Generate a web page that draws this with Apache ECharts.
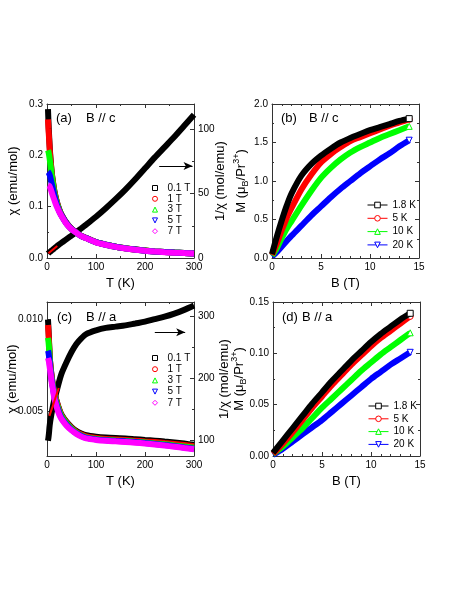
<!DOCTYPE html>
<html>
<head>
<meta charset="utf-8">
<script src="https://cdn.jsdelivr.net/npm/echarts@6/dist/echarts.min.js"></script>
<style>
html,body{margin:0;padding:0;background:#fff;}
#main{width:463px;height:599px;}
</style>
</head>
<body>
<div id="main"></div>
<script>
var FONT = '"Liberation Sans", Arial, sans-serif';

// (a) B // c : chi(T) and 1/chi(T)
var tA = [2,3,4,5,6,8,10,12,15,20,25,30,40,50,60,70,80,100,120,140,160,180,200,220,240,260,280,300];
var invChiA = [3.4,3.8,4.1,4.4,4.8,5.4,6.0,6.6,7.6,9.1,10.5,11.9,14.6,17.4,20.2,23.0,25.9,32.0,38.6,45.6,53.0,61.0,69.5,78.0,86.0,94.0,102.5,111.0];
var chiA01 = [0.290,0.265,0.244,0.226,0.209,0.184,0.164,0.150,0.131,0.110,0.095,0.084,0.068,0.057,0.050,0.043,0.039,0.031,0.026,0.022,0.019,0.0165,0.0144,0.0128,0.0116,0.0106,0.0098,0.0090];
var chiA1 = [0.270,0.252,0.236,0.220,0.205,0.181,0.162,0.148,0.130,0.109,0.094,0.083,0.068,0.057,0.050,0.043,0.039,0.031,0.026,0.022,0.019,0.0165,0.0144,0.0128,0.0116,0.0106,0.0098,0.0090];
var chiA3 = [0.210,0.207,0.202,0.196,0.189,0.174,0.158,0.145,0.127,0.107,0.093,0.082,0.067,0.0565,0.0495,0.0428,0.0388,0.0308,0.0259,0.0219,0.0189,0.0165,0.0144,0.0128,0.0116,0.0106,0.0098,0.0091];
var chiA5 = [0.168,0.167,0.165,0.163,0.160,0.152,0.143,0.135,0.122,0.104,0.091,0.082,0.067,0.0565,0.0495,0.0428,0.0388,0.0308,0.0258,0.0218,0.0188,0.0164,0.0143,0.0127,0.0115,0.0105,0.0097,0.0090];
var chiA7 = [0.142,0.142,0.141,0.140,0.138,0.133,0.127,0.121,0.113,0.100,0.090,0.081,0.066,0.056,0.049,0.0425,0.0385,0.0305,0.0256,0.0216,0.0186,0.0162,0.0142,0.0126,0.0114,0.0104,0.0096,0.0089];
var fitA = [[3,3.6],[21,9.3]];

// (c) B // a
var tC = [2,3,4,5,6,8,10,12,15,20,25,30,40,50,60,70,80,100,120,140,160,180,200,220,240,260,280,300];
var invChiC = [100,105,112,121,128,138,147,155,166,181,196,209,227,243,256,265,272,278,282,284,286,289,292,296,300,305,311,318];
var chiC01 = [0.0100,0.0095,0.0089,0.0083,0.0078,0.00725,0.0068,0.00645,0.00602,0.00552,0.0051,0.00478,0.0044,0.00412,0.0039,0.00377,0.00368,0.0036,0.00355,0.00352,0.0035,0.00346,0.00342,0.00338,0.00333,0.00328,0.00322,0.00315];
var chiC1 = [0.0097,0.0093,0.0088,0.0082,0.0078,0.0072,0.0068,0.0064,0.0060,0.0055,0.00507,0.00474,0.00436,0.00407,0.00385,0.00371,0.00361,0.00352,0.00347,0.00344,0.00342,0.00338,0.00334,0.0033,0.00325,0.0032,0.00314,0.00307];
var chiC3 = [0.0090,0.0088,0.0085,0.0081,0.0077,0.0071,0.0067,0.0064,0.0059,0.0054,0.0050,0.0047,0.00432,0.00403,0.00381,0.00366,0.00356,0.00347,0.00342,0.00339,0.00336,0.00332,0.00328,0.00323,0.00318,0.00312,0.00306,0.00299];
var chiC5 = [0.0083,0.0082,0.0080,0.0078,0.0075,0.0070,0.0066,0.0063,0.0058,0.0053,0.0049,0.0046,0.00425,0.00398,0.00378,0.00363,0.00353,0.00345,0.0034,0.00337,0.00334,0.0033,0.00325,0.0032,0.00314,0.00308,0.00301,0.00294];
var chiC7 = [0.0079,0.0078,0.0077,0.0075,0.0073,0.0069,0.0065,0.0062,0.0057,0.0052,0.0048,0.00455,0.0042,0.00395,0.00375,0.0036,0.0035,0.00342,0.00337,0.00334,0.00331,0.00327,0.00322,0.00317,0.00311,0.00305,0.00298,0.00291];
var fitC = [[5,140],[24,185]];

// (b) M(B), B // c
var bB = [0,0.5,1,1.5,2,3,4,5,6,7,8,9,10,11,12,13,14];
var mB18 = [0.05,0.28,0.49,0.68,0.84,1.07,1.22,1.33,1.42,1.50,1.56,1.61,1.66,1.70,1.74,1.78,1.81];
var mB5 = [0.04,0.19,0.36,0.52,0.65,0.89,1.08,1.24,1.35,1.44,1.52,1.57,1.62,1.67,1.72,1.76,1.80];
var mB10 = [0.03,0.13,0.26,0.38,0.48,0.68,0.87,1.04,1.17,1.28,1.37,1.44,1.50,1.56,1.61,1.66,1.71];
var mB20 = [0.02,0.08,0.15,0.22,0.29,0.42,0.55,0.67,0.79,0.90,1.00,1.10,1.19,1.28,1.36,1.45,1.53];

// (d) M(B), B // a
var bD = [0,1,2,3,4,5,6,7,8,9,10,11,12,13,14];
var mD18 = [0.003,0.015,0.027,0.039,0.051,0.062,0.073,0.083,0.093,0.102,0.111,0.119,0.126,0.133,0.139];
var mD5 = [0.002,0.012,0.023,0.035,0.047,0.058,0.069,0.079,0.089,0.098,0.107,0.115,0.122,0.129,0.136];
var mD10 = [0.002,0.009,0.018,0.027,0.037,0.047,0.056,0.065,0.074,0.083,0.091,0.099,0.106,0.113,0.120];
var mD20 = [0.001,0.007,0.014,0.021,0.028,0.035,0.043,0.051,0.059,0.067,0.075,0.082,0.089,0.095,0.101];

var fieldNames = ['0.1 T','1 T','3 T','5 T','7 T'];
var tempNames = ['1.8 K','5 K','10 K','20 K'];
var fieldColors = ['#000000','#ff0000','#00ff00','#0000ff','#ff00ff'];
var tempColors = ['#000000','#ff0000','#00ff00','#0000ff'];
var icons = ['rect','circle','triangle','path://M0,0L10,0L5,10Z','diamond'];

function zip(xs, ys){
  var out = [];
  for (var i = 0; i < xs.length; i++) out.push([xs[i], ys[i]]);
  return out;
}

var lineCol = '#333';
function axis(o){
  var a = {
    type: 'value',
    gridIndex: o.grid,
    position: o.pos,
    min: o.min, max: o.max,
    scale: true,
    axisLine: {show: true, onZero: false, lineStyle: {color: lineCol, width: 1}},
    axisTick: {show: true, inside: true, length: 4, lineStyle: {color: lineCol}},
    minorTick: {show: true, splitNumber: o.minor || 2, length: 2, lineStyle: {color: lineCol}},
    splitLine: {show: false},
    axisLabel: {show: !!o.label, fontSize: 10, color: '#000', fontFamily: FONT, margin: 4,
      formatter: o.fmt, showMinLabel: true, showMaxLabel: true},
    name: o.name || '',
    nameLocation: 'middle',
    nameMoveOverlap: false,
    nameGap: o.gap || 20,
    nameRotate: o.rot,
    nameTextStyle: {fontSize: 13, color: '#000', fontFamily: FONT,
      rich: {
        n: {fontSize: 13, fontFamily: FONT, lineHeight: 18, verticalAlign: 'middle'},
        sub: {fontSize: 9, fontFamily: FONT, lineHeight: 18, verticalAlign: 'bottom'},
        sup: {fontSize: 9, fontFamily: FONT, lineHeight: 18, verticalAlign: 'top'}
      }}
  };
  if (o.interval != null) a.interval = o.interval;
  if (o.split != null) a.splitNumber = o.split;
  return a;
}

function fmtFix(d){ return function(v){ return v.toFixed(d); }; }
function fmtOnly(step, d){
  return function(v){
    var k = Math.round(v / step);
    if (Math.abs(v - k * step) > step * 1e-3) return '';
    return v.toFixed(d);
  };
}

var mName = '{n|M (μ}{sub|B}{n|/Pr}{sup|3+}{n|)}';

var xAxes = [
  axis({grid:0, pos:'bottom', min:0, max:300, interval:100, label:true, name:'T (K)', gap:19}),
  axis({grid:0, pos:'top', min:0, max:300, interval:100}),
  axis({grid:1, pos:'bottom', min:0, max:15, interval:5, minor:5, label:true, fmt:fmtFix(0), name:'B (T)', gap:19}),
  axis({grid:1, pos:'top', min:0, max:15, interval:5, minor:5}),
  axis({grid:2, pos:'bottom', min:0, max:300, interval:100, label:true, name:'T (K)', gap:19}),
  axis({grid:2, pos:'top', min:0, max:300, interval:100}),
  axis({grid:3, pos:'bottom', min:0, max:15, interval:5, minor:5, label:true, fmt:fmtFix(0), name:'B (T)', gap:19}),
  axis({grid:3, pos:'top', min:0, max:15, interval:5, minor:5})
];
var yAxes = [
  axis({grid:0, pos:'left', min:0, max:0.3, interval:0.1, label:true, fmt:fmtFix(1), name:'χ (emu/mol)', gap:27, rot:90}),
  axis({grid:0, pos:'right', min:0, max:119.4, interval:50, label:true, fmt:fmtOnly(50, 0), name:'1/χ (mol/emu)', gap:20, rot:90}),
  axis({grid:1, pos:'left', min:0, max:2, interval:0.5, label:true, fmt:fmtFix(1), name:mName, gap:22, rot:90}),
  axis({grid:1, pos:'right', min:0, max:2, interval:0.5}),
  axis({grid:2, pos:'left', min:0.00254, max:0.01096, split:2, label:true, fmt:fmtOnly(0.005, 3), name:'χ (emu/mol)', gap:28, rot:90}),
  axis({grid:2, pos:'right', min:75.3, max:323.7, split:2, label:true, fmt:fmtOnly(100, 0), name:'1/χ (mol/emu)', gap:24, rot:90}),
  axis({grid:3, pos:'left', min:0, max:0.15, interval:0.05, label:true, fmt:fmtFix(2), name:mName, gap:25, rot:90}),
  axis({grid:3, pos:'right', min:0, max:0.15, interval:0.05})
];

function band(name, color, x, y, xi, yi, symbol, z){
  var pts = zip(x, y);
  var data = pts;
  if (symbol) {
    // only the last point carries its open marker, as in the original plot
    data = pts.map(function(p, k){
      if (k < pts.length - 1) return {value: p, symbol: 'none'};
      return {value: p, symbol: symbol, symbolSize: 6,
        itemStyle: {color: '#fff', borderColor: color, borderWidth: 1}};
    });
  }
  return {
    type: 'line', name: name, xAxisIndex: xi, yAxisIndex: yi,
    data: data,
    smooth: 0.3,
    symbol: symbol || 'none', showSymbol: !!symbol, symbolSize: 6,
    lineStyle: {color: color, width: 6},
    itemStyle: {color: color},
    z: z || 2,
    silent: true, animation: false
  };
}
function fitLine(pts, xi, yi){
  return {type: 'line', name: 'fit', xAxisIndex: xi, yAxisIndex: yi, data: pts,
    symbol: 'none', lineStyle: {color: '#ff0000', width: 2}, z: 5, silent: true, animation: false};
}
function arrow(s, pts){
  s.markLine = {silent: true, symbol: ['none','arrow'], symbolSize: [6, 9],
    label: {show: false}, lineStyle: {color: '#000', width: 1, type: 'solid'},
    data: [[{coord: pts[0]}, {coord: pts[1]}]], animation: false};
  return s;
}

var series = [];
// (a)
series.push(arrow(band('inv a', '#000', tA, invChiA, 0, 1), [[229, 71.3],[297, 71.3]]));
series.push(fitLine(fitA, 0, 1));
[chiA01, chiA1, chiA3, chiA5, chiA7].forEach(function(d, i){
  series.push(band(fieldNames[i], fieldColors[i], tA, d, 0, 0, null, 3 + i * 0.01));
});
// (c)
series.push(arrow(band('inv c', '#000', tC, invChiC, 4, 5), [[220, 275],[282, 275]]));
series.push(fitLine(fitC, 4, 5));
[chiC01, chiC1, chiC3, chiC5, chiC7].forEach(function(d, i){
  series.push(band(fieldNames[i], fieldColors[i], tC, d, 4, 4, null, 3 + i * 0.01));
});
// (b) and (d)
var mBs = [mB18, mB5, mB10, mB20], mDs = [mD18, mD5, mD10, mD20];
for (var i = 3; i >= 0; i--) {
  series.push(band(tempNames[i], tempColors[i], bB, mBs[i], 2, 2, icons[i], 3 + (3 - i) * 0.01));
  series.push(band(tempNames[i], tempColors[i], bD, mDs[i], 6, 6, icons[i], 3 + (3 - i) * 0.01));
}

function fieldLegend(left, top, gap){
  return {
    orient: 'vertical', left: left, top: top, itemGap: gap,
    itemWidth: 5, itemHeight: 5, selectedMode: false,
    textStyle: {fontSize: 10, color: '#000', fontFamily: FONT, padding: [0, 0, 0, 5]},
    data: fieldNames.map(function(n, i){
      return {name: n, icon: icons[i], itemStyle: {color: '#fff', borderColor: fieldColors[i], borderWidth: 1}};
    })
  };
}
function tempLegend(left, top, gap){
  return {
    orient: 'vertical', left: left, top: top, itemGap: gap,
    itemWidth: 20, itemHeight: 7, selectedMode: false,
    lineStyle: {width: 1},
    textStyle: {fontSize: 10, color: '#000', fontFamily: FONT},
    data: tempNames.map(function(n, i){
      return {name: n, itemStyle: {color: '#fff', borderColor: tempColors[i], borderWidth: 1}, lineStyle: {color: tempColors[i], width: 1}};
    })
  };
}

function label(txt, left, top){
  return {type: 'text', left: left, top: top, silent: true,
    style: {text: txt, fontSize: 13, fontFamily: FONT, fill: '#000'}};
}

var option = {
  backgroundColor: '#fff',
  animation: false,
  grid: [
    {left: 47, top: 104, width: 147, height: 154},
    {left: 272, top: 104, width: 147, height: 154},
    {left: 47, top: 302, width: 147, height: 154},
    {left: 273, top: 302, width: 147, height: 154}
  ],
  xAxis: xAxes,
  yAxis: yAxes,
  legend: [
    fieldLegend(147, 178, 0.8),
    fieldLegend(147, 348, 1.2),
    tempLegend(362, 195, 3.3),
    tempLegend(363, 396, 2.8)
  ],
  graphic: [
    label('(a)', 56, 112), label('B // c', 86, 112),
    label('(b)', 281, 112), label('B // c', 309, 112),
    label('(c)', 57, 311), label('B // a', 86, 311),
    label('(d)', 282, 311), label('B // a', 302, 311)
  ],
  series: series
};

var myChart = echarts.init(document.getElementById('main'));
myChart.setOption(option);
</script>
</body>
</html>
